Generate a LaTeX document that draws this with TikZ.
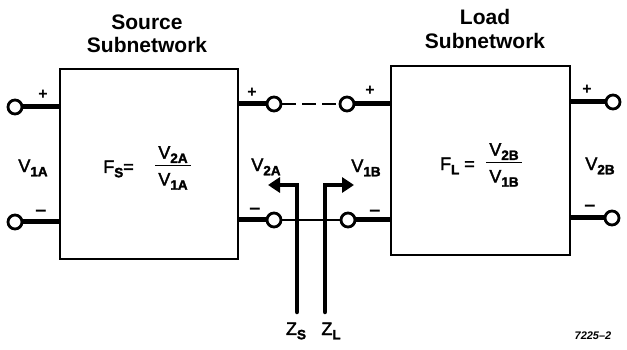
\documentclass[tikz,border=0pt]{standalone}
\usepackage{fontspec}
\setmainfont{Liberation Sans}
\newfontfamily\lblfont[FakeBold=2]{Liberation Sans}
\usetikzlibrary{arrows.meta}
\newcommand{\subs}[1]{\raisebox{-0.45ex}{\bfseries\fontsize{13.5}{14}\selectfont #1}}
\newcommand{\fracbox}[2]{\setlength{\arrayrulewidth}{1.8pt}\begin{tabular}{@{}c@{}}\,#1\,\\[0pt]\hline\rule{0pt}{19pt}#2\end{tabular}}
\begin{document}
\begin{tikzpicture}[x=1pt,y=-1pt,
  box/.style={draw,line width=2.4pt,inner sep=0},
  term/.style={circle,draw,line width=2.8pt,minimum size=14pt,inner sep=0,fill=white},
  lead/.style={line width=5pt},
  wire/.style={line width=2.2pt},
  zarrow/.style={line width=4.5pt,line cap=round,-{Triangle[length=12pt,width=15pt]}},
  title/.style={font=\bfseries\fontsize{21}{23.5}\selectfont,align=center,inner sep=0},
  lbl/.style={font=\lblfont\fontsize{18}{20}\selectfont,inner sep=0},
  sign/.style={font=\bfseries\fontsize{16}{16}\selectfont,inner sep=0},
  minus/.style={font=\bfseries\fontsize{20}{20}\selectfont,inner sep=0}
]
\useasboundingbox (0,0) rectangle (627,350);
% boxes
\node[box,minimum width=178pt,minimum height=190pt] (src) at (149,164) {};
\node[box,minimum width=179pt,minimum height=189pt] (ld) at (480.5,160.5) {};
% titles
\node[title] (srct) at (147,34) {Source\\Subnetwork};
\node[title] (ldt) at (485,29) {Load\\Subnetwork};
% connectors: leads and wires
\coordinate (a) at (15,107);
\coordinate (b) at (15,222);
\coordinate (c) at (274,104);
\coordinate (d) at (274,220);
\coordinate (e) at (347,104);
\coordinate (f) at (348,220);
\coordinate (g) at (613,102);
\coordinate (h) at (612,218);
\draw[lead] (a) -- (a -| src.west);
\draw[lead] (b) -- (b -| src.west);
\draw[lead] (c) -- (c -| src.east);
\draw[lead] (d) -- (d -| src.east);
\draw[lead] (e) -- (e -| ld.west);
\draw[lead] (f) -- (f -| ld.west);
\draw[lead] (g) -- (g -| ld.east);
\draw[lead] (h) -- (h -| ld.east);
\draw[wire] (d) -- (f);
\draw[wire,dash pattern=on 14pt off 6pt,dash phase=-8pt] (c) -- (e);
% terminals
\node[term] (s1p) at (a) {};
\node[term] (s1m) at (b) {};
\node[term] (s2p) at (c) {};
\node[term] (s2m) at (d) {};
\node[term] (l1p) at (e) {};
\node[term] (l1m) at (f) {};
\node[term] (l2p) at (g) {};
\node[term] (l2m) at (h) {};
% signs
\node[sign] (p1) at (43,95) {+};
\node[sign] (p2) at (252,93) {+};
\node[sign] (p3) at (370,91) {+};
\node[sign] (p4) at (587,90) {+};
\node[minus] (m1) at (41,213) {--};
\node[minus] (m2) at (255,211) {--};
\node[minus] (m3) at (375,213) {--};
\node[minus] (m4) at (590,208) {--};
% impedance arrows
\coordinate (zsb) at (297,312);
\coordinate (zst) at (268,185);
\coordinate (zlb) at (325,312);
\coordinate (zlt) at (354,185);
\draw[zarrow] (zsb) |- (zst);
\draw[zarrow] (zlb) |- (zlt);
\node[lbl] (zs) at (296,331) {Z\subs{S}};
\node[lbl] (zl) at (331,331) {Z\subs{L}};
% voltage labels
\node[lbl] (v1a) at (33,168) {V\subs{1A}};
\node[lbl] (v2a) at (266,167) {V\subs{2A}};
\node[lbl] (v1b) at (366,168) {V\subs{1B}};
\node[lbl] (v2b) at (600,166) {V\subs{2B}};
% transfer functions
\node[lbl,anchor=east] (fs) at (134,169) {F\subs{S}=};
\node[lbl] (fsf) at (173,168) {\fracbox{V\subs{2A}}{V\subs{1A}}};
\node[lbl,anchor=east] (fl) at (475,166) {F\subs{L} =};
\node[lbl] (flf) at (504,165) {\fracbox{V\subs{2B}}{V\subs{1B}}};
% figure number
\node[font=\bfseries\itshape\fontsize{11}{12}\selectfont,inner sep=0] (fig) at (593,336) {7225--2};
\end{tikzpicture}
\end{document}
